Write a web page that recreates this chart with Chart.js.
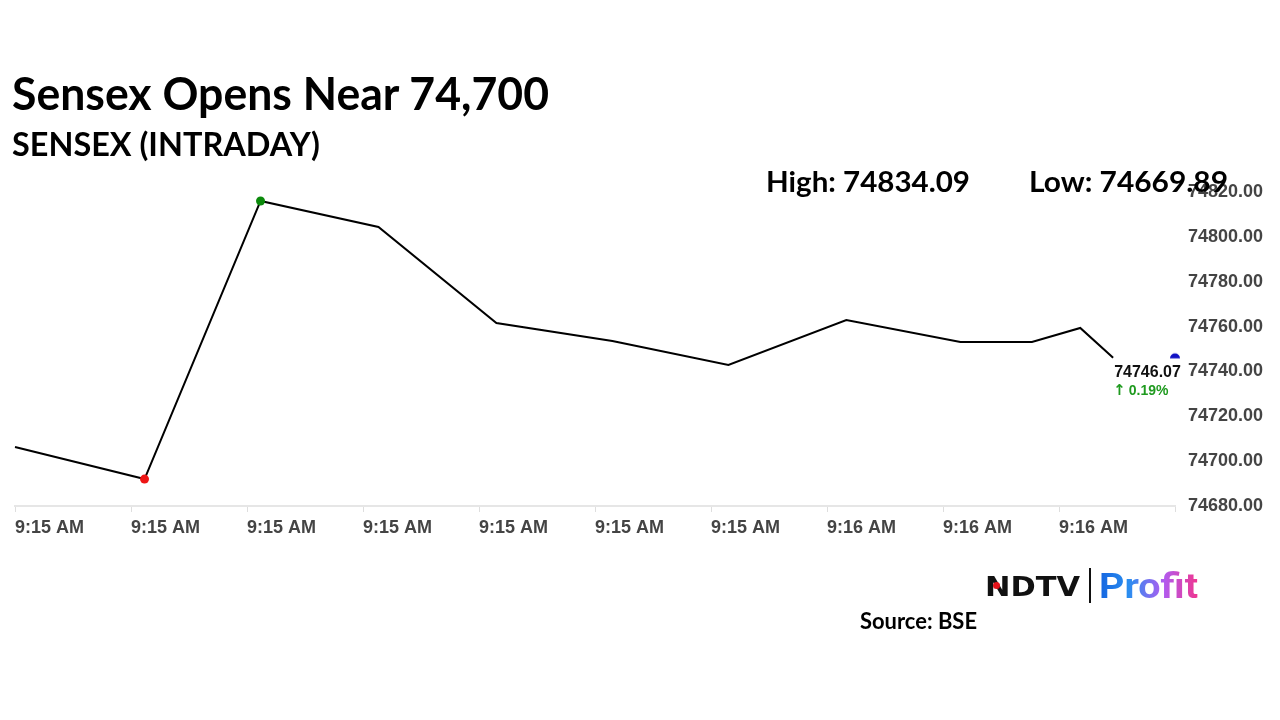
<!DOCTYPE html>
<html>
<head>
<meta charset="utf-8">
<script src="https://cdn.jsdelivr.net/npm/chart.js@4.4.1/dist/chart.umd.min.js"></script>
<style>
  html,body{margin:0;padding:0;background:#fff;}
  body{width:1280px;height:720px;position:relative;overflow:hidden;}
  #wrap{position:absolute;left:0;top:0;width:1280px;height:720px;}
  .t{position:absolute;white-space:nowrap;line-height:1.2;}
</style>
</head>
<body>
<div id="wrap"><canvas id="c" width="1280" height="720"></canvas></div>
<script>
// ---- data ----
const tickSeconds = [18, 24, 30, 36, 42, 48, 54, 60, 66, 72, 78];
const tickLabels  = ['9:15 AM','9:15 AM','9:15 AM','9:15 AM','9:15 AM','9:15 AM','9:15 AM','9:16 AM','9:16 AM','9:16 AM',''];
const pointSeconds = [18, 24.7, 30.7, 36.8, 42.9, 48.9, 54.9, 61.0, 66.9, 70.6, 73.1, 74.8];
const values = [74706.3, 74692.0, 74816.0, 74804.4, 74761.6, 74753.6, 74742.9, 74762.9, 74753.1, 74753.1, 74759.4, 74746.07];
const currentSecond = 78;
const lastValue = 74746.07;
const changeArrow = '\u2191';
const changeText = '0.19%';
const yMin = 74680, yMax = 74820, yStep = 20;
const titleText = 'Sensex Opens Near 74,700';
const subtitleText = 'SENSEX (INTRADAY)';
const highText = 'High: 74834.09';
const lowText = 'Low: 74669.89';
const sourceText = 'Source: BSE';

const vMax = Math.max(...values), vMin = Math.min(...values);

// semicircle marker
const semi = document.createElement('canvas');
semi.width = 12; semi.height = 12;
(function(){ const g = semi.getContext('2d'); g.fillStyle = '#1212c4'; g.beginPath(); g.arc(6,6.5,5,Math.PI,2*Math.PI); g.closePath(); g.fill(); })();

const lastLabelPlugin = {
  id: 'lastLabel',
  afterDatasetsDraw(chart){
    const meta = chart.getDatasetMeta(0);
    const p = meta.data[meta.data.length-1];
    const ctx = chart.ctx;
    ctx.save();
    ctx.textAlign = 'left';
    ctx.textBaseline = 'alphabetic';
    ctx.fillStyle = '#111';
    ctx.font = 'bold 16px "Liberation Sans", Arial, sans-serif';
    ctx.fillText(lastValue.toFixed(2), p.x + 1, p.y + 19);
    ctx.fillStyle = '#1f9a1f';
    ctx.font = 'bold 15px "DejaVu Sans", sans-serif';
    ctx.fillText(changeArrow, p.x, p.y + 37);
    const aw = ctx.measureText(changeArrow).width;
    ctx.font = 'bold 14px "Liberation Sans", Arial, sans-serif';
    ctx.fillText(changeText, p.x + aw + 3, p.y + 37);
    ctx.restore();
  }
};

new Chart(document.getElementById('c'), {
  type: 'line',
  data: {
    datasets: [{
      data: pointSeconds.map((s,i)=>({x:s, y:values[i]})),
      borderColor: '#000',
      borderWidth: 2,
      tension: 0,
      pointRadius: ctx => (ctx.raw && (ctx.raw.y === vMax || ctx.raw.y === vMin)) ? 4.5 : 0,
      pointBackgroundColor: ctx => (ctx.raw && ctx.raw.y === vMax) ? '#0b8a0b' : '#ee1515',
      pointBorderWidth: 0,
      pointHoverRadius: 0,
      clip: false
    },{
      data: [{x: currentSecond, y: lastValue}],
      showLine: false,
      pointStyle: semi,
      pointRadius: 6,
      clip: false
    }]
  },
  options: {
    responsive: false,
    animation: false,
    events: [],
    layout: { padding: { left: 15, top: 192, right: 0, bottom: 0 } },
    plugins: { legend: {display:false}, tooltip: {enabled:false} },
    scales: {
      x: {
        type: 'linear',
        min: tickSeconds[0], max: tickSeconds[tickSeconds.length-1],
        afterBuildTicks: s => { s.ticks = tickSeconds.map(v=>({value:v})); },
        afterFit: s => { s.height = 214; },
        grid: { drawOnChartArea: false, drawTicks: true, tickLength: 6, color: '#dedede' },
        border: { display: true, color: '#e6e6e6', width: 2 },
        ticks: {
          align: 'start', maxRotation: 0, autoSkip: false, padding: 5,
          color: '#444', font: { family: '"Liberation Sans", Arial, sans-serif', size: 18, weight: 'bold' },
          callback: (v, i) => tickLabels[i]
        }
      },
      y: {
        position: 'right',
        min: yMin, max: yMax,
        afterBuildTicks: s => { const t=[]; for(let v=yMin; v<=yMax; v+=yStep) t.push({value:v}); s.ticks=t; },
        afterFit: s => { s.width = 105; },
        grid: { display: false, drawTicks: false },
        border: { display: false },
        ticks: {
          padding: 13, color: '#444',
          font: { family: '"Liberation Sans", Arial, sans-serif', size: 18, weight: 'bold' },
          callback: v => Number(v).toFixed(2)
        }
      }
    }
  },
  plugins: [lastLabelPlugin]
});

// ---- html text ----
function place(text, o){
  const d = document.createElement('div');
  d.className = 't';
  d.style.left = o.x + 'px';
  d.style.top = '0px';
  d.style.fontFamily = o.family || 'Lato, sans-serif';
  d.style.fontWeight = o.weight || '700';
  d.style.fontSize = o.size + 'px';
  d.style.color = o.color || '#000';
  if (o.bg) { d.style.background = o.bg; d.style.webkitBackgroundClip = 'text'; d.style.backgroundClip = 'text'; d.style.color = 'transparent'; }
  d.textContent = text;
  const m = document.createElement('span');
  m.style.display = 'inline-block'; m.style.width = '0'; m.style.height = '0';
  d.appendChild(m);
  document.body.appendChild(d);
  const baseOff = m.offsetTop;
  d.style.top = (o.base - baseOff) + 'px';
  if (o.width){
    const w = d.getBoundingClientRect().width;
    d.style.transformOrigin = '0 0';
    d.style.transform = 'scaleX(' + (o.width / w) + ')';
  }
  return d;
}
place(titleText,    {x:12,  base:110, size:45, width:537});
place(subtitleText, {x:12,  base:156, size:32, width:308});
place(highText,     {x:766, base:192, size:28, width:204});
place(lowText,      {x:1029,base:192, size:28, width:199});
place(sourceText,   {x:860, base:629, size:22, width:117});
// logo
place('NDTV', {x:985, base:596, size:26, family:'"DejaVu Sans", sans-serif', weight:'bold', width:95, color:'#111'});
const dot = document.createElement('div');
dot.style.cssText = 'position:absolute;left:993px;top:582px;width:7px;height:7px;border-radius:50%;background:#e3131b;';
document.body.appendChild(dot);
const bar = document.createElement('div');
bar.style.cssText = 'position:absolute;left:1089px;top:568px;width:2px;height:35px;background:#111;';
document.body.appendChild(bar);
place('Profit', {x:1099, base:598, size:35, family:'Roboto, sans-serif', weight:'700', width:99,
  bg:'linear-gradient(90deg,#1565e0 0%,#2a8ef0 30%,#b05cf0 65%,#f0358f 100%)'});
</script>
</body>
</html>
